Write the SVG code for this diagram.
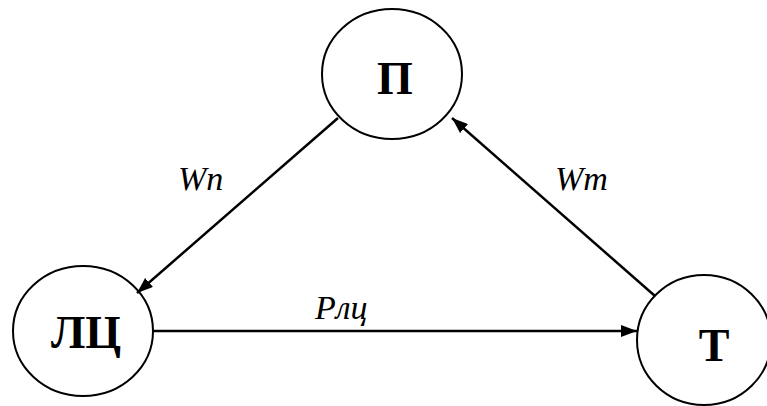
<svg xmlns="http://www.w3.org/2000/svg" width="767" height="406" viewBox="0 0 767 406">
<style>.circ{fill:#fff;stroke:#000;stroke-width:2}.conn{stroke:#000;stroke-width:2.5;fill:none}</style>
<defs>
<marker id="ah" markerWidth="16" markerHeight="12" refX="16" refY="6" orient="auto" markerUnits="userSpaceOnUse">
<path d="M0,0 L16,6 L0,12 Z" fill="#000"/>
</marker>
</defs>
<rect width="767" height="406" fill="#fff"/>
<g id="P">
<ellipse class="circ" cx="392" cy="74" rx="70" ry="65"/>
<text x="395" y="94" font-family="Liberation Serif" font-size="46" font-weight="bold" text-anchor="middle">П</text>
</g>
<g id="LC">
<ellipse class="circ" cx="83" cy="331" rx="70" ry="65"/>
<text x="86" y="348" font-family="Liberation Serif" font-size="46" font-weight="bold" text-anchor="middle">ЛЦ</text>
</g>
<g id="T">
<ellipse class="circ" cx="704" cy="340" rx="67" ry="65"/>
<text x="714" y="361" font-family="Liberation Serif" font-size="46" font-weight="bold" text-anchor="middle">Т</text>
</g>
<g id="connectors">
<line class="conn" x1="338" y1="118" x2="137" y2="293" marker-end="url(#ah)"/>
<line class="conn" x1="655" y1="296" x2="452" y2="118" marker-end="url(#ah)"/>
<line class="conn" x1="153" y1="331" x2="637" y2="331" marker-end="url(#ah)"/>
<text x="178" y="190" font-family="Liberation Serif" font-size="34" font-style="italic">Wn</text>
<text x="555" y="190" font-family="Liberation Serif" font-size="34" font-style="italic">Wm</text>
<text x="315" y="319" font-family="Liberation Serif" font-size="34" font-style="italic">Рлц</text>
</g>
</svg>
